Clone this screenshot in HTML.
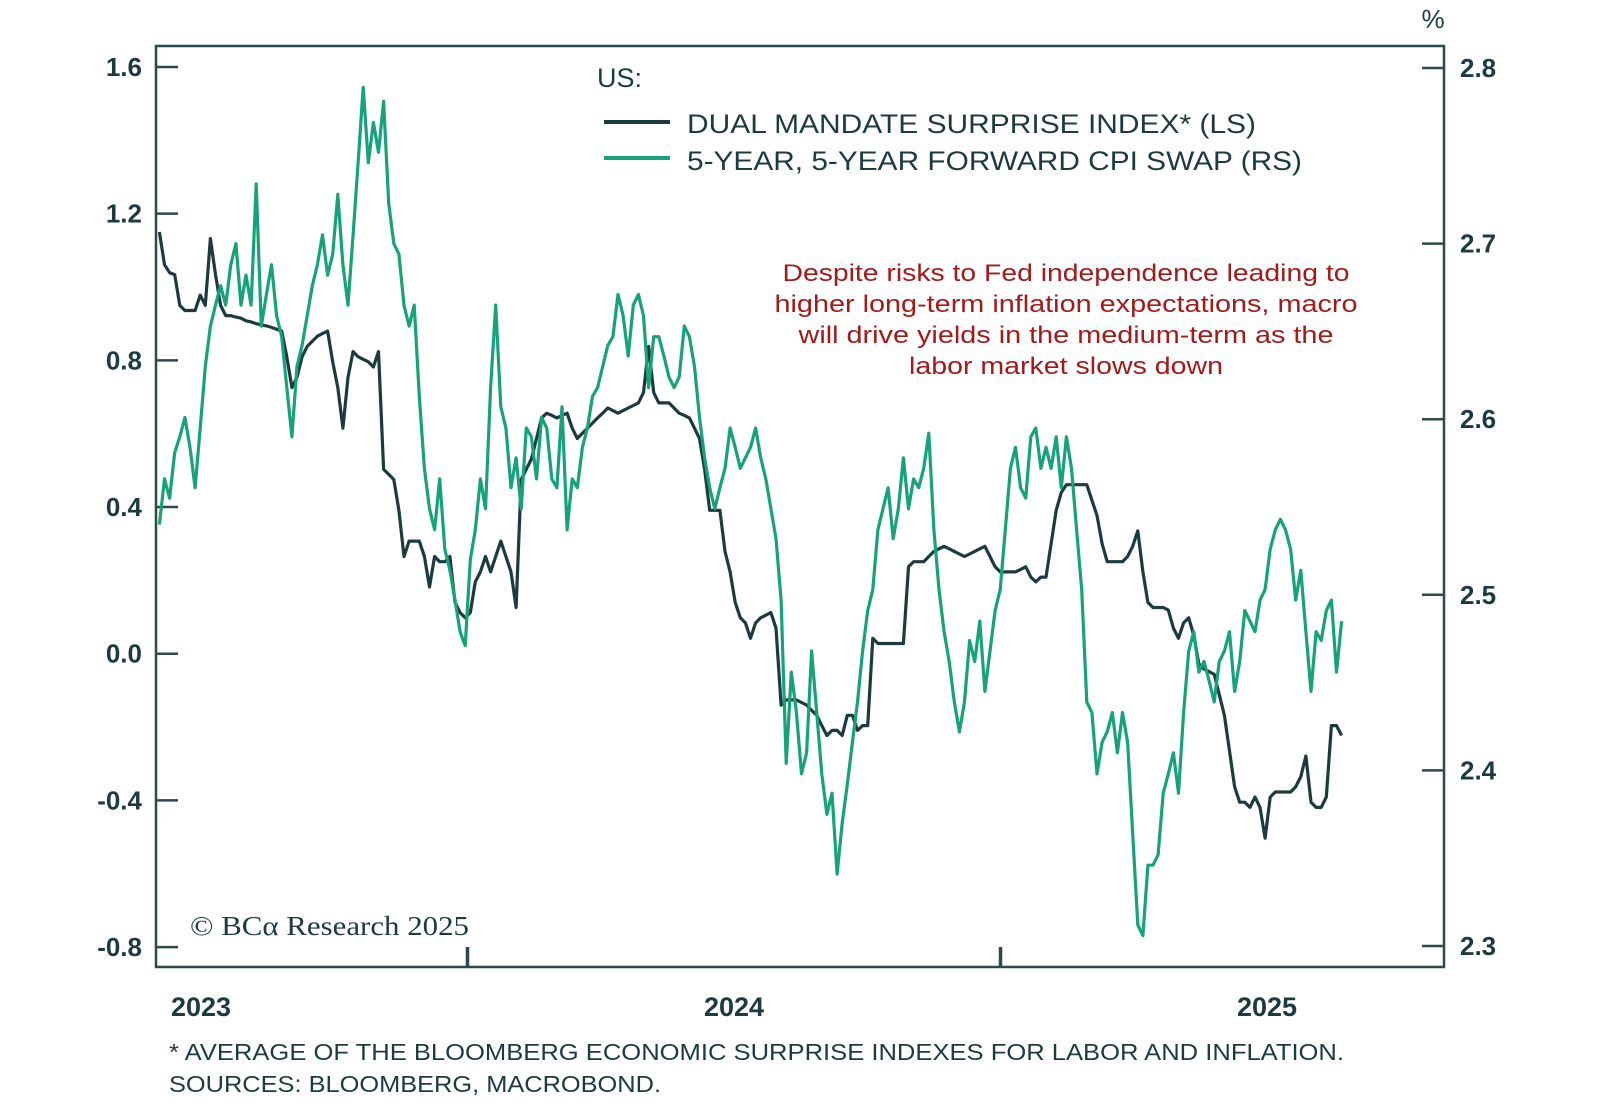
<!DOCTYPE html>
<html><head><meta charset="utf-8"><style>
html,body{margin:0;padding:0;background:#fff;}
svg{display:block;}
text{font-family:"Liberation Sans",sans-serif;}
</style></head><body>
<svg id="chart" width="1600" height="1107" viewBox="0 0 1600 1107">
<rect x="156" y="46" width="1288" height="921" fill="none" stroke="#2c4a4e" stroke-width="2.5"/>
<g id="axes"></g>
<g id="series"></g>
<text x="1433" y="28" font-size="26" fill="#1d3b3f" text-anchor="middle">%</text>
<text x="597" y="87" font-size="27" fill="#1d3b3f">US:</text>
<line x1="604" y1="122" x2="670" y2="122" stroke="#1d3b3f" stroke-width="4"/>
<text x="687" y="133" font-size="27" fill="#1d3b3f" textLength="569" lengthAdjust="spacingAndGlyphs">DUAL MANDATE SURPRISE INDEX* (LS)</text>
<line x1="604" y1="158" x2="670" y2="158" stroke="#16a37b" stroke-width="4"/>
<text x="687" y="170" font-size="27" fill="#1d3b3f" textLength="615" lengthAdjust="spacingAndGlyphs">5-YEAR, 5-YEAR FORWARD CPI SWAP (RS)</text>
<g fill="#a31a1a" font-size="24" text-anchor="middle" lengthAdjust="spacingAndGlyphs">
<text x="1066" y="281" textLength="567" lengthAdjust="spacingAndGlyphs">Despite risks to Fed independence leading to</text>
<text x="1066" y="312" textLength="583" lengthAdjust="spacingAndGlyphs">higher long-term inflation expectations, macro</text>
<text x="1066" y="343" textLength="535" lengthAdjust="spacingAndGlyphs">will drive yields in the medium-term as the</text>
<text x="1066" y="374" textLength="314" lengthAdjust="spacingAndGlyphs">labor market slows down</text>
</g>
<text x="190" y="935" font-size="27" fill="#1d3b3f" textLength="279" lengthAdjust="spacingAndGlyphs" style="font-family:'Liberation Serif',serif">© BCα Research 2025</text>
<text x="169" y="1060" font-size="23" fill="#1d3b3f" textLength="1175" lengthAdjust="spacingAndGlyphs">* AVERAGE OF THE BLOOMBERG ECONOMIC SURPRISE INDEXES FOR LABOR AND INFLATION.</text>
<text x="169" y="1092" font-size="23" fill="#1d3b3f" textLength="492" lengthAdjust="spacingAndGlyphs">SOURCES: BLOOMBERG, MACROBOND.</text>
</svg>
<script>
const startYear = 2022.922;
const stepYear = 0.00956;
const leftTicks = [1.6, 1.2, 0.8, 0.4, 0.0, -0.4, -0.8];
const leftTickLabels = ["1.6","1.2","0.8","0.4","0.0","-0.4","-0.8"];
const rightTicks = [2.8, 2.7, 2.6, 2.5, 2.4, 2.3];
const rightTickLabels = ["2.8","2.7","2.6","2.5","2.4","2.3"];
const yearLabels = [2023, 2024, 2025];
const surprise = [1.150,1.061,1.039,1.034,0.950,0.936,0.936,0.936,0.978,0.950,1.132,1.034,0.950,0.922,0.922,0.918,0.915,0.908,0.905,0.900,0.897,0.894,0.890,0.885,0.880,0.810,0.726,0.754,0.810,0.838,0.852,0.866,0.873,0.880,0.796,0.726,0.615,0.754,0.824,0.810,0.803,0.796,0.782,0.824,0.503,0.489,0.475,0.391,0.265,0.307,0.307,0.307,0.265,0.182,0.265,0.251,0.251,0.265,0.140,0.112,0.098,0.112,0.196,0.223,0.265,0.223,0.265,0.307,0.265,0.223,0.126,0.475,0.503,0.531,0.587,0.643,0.656,0.650,0.643,0.650,0.656,0.615,0.587,0.601,0.615,0.629,0.643,0.656,0.670,0.663,0.656,0.663,0.670,0.677,0.684,0.712,0.838,0.712,0.684,0.684,0.684,0.670,0.656,0.650,0.643,0.615,0.587,0.503,0.391,0.391,0.391,0.279,0.223,0.140,0.098,0.084,0.042,0.084,0.098,0.105,0.112,0.070,-0.140,-0.126,-0.126,-0.126,-0.133,-0.140,-0.154,-0.168,-0.196,-0.223,-0.209,-0.209,-0.223,-0.168,-0.168,-0.209,-0.196,-0.196,0.042,0.028,0.028,0.028,0.028,0.028,0.028,0.237,0.251,0.251,0.251,0.265,0.279,0.286,0.293,0.286,0.279,0.272,0.265,0.272,0.279,0.286,0.293,0.265,0.237,0.223,0.223,0.223,0.223,0.230,0.237,0.209,0.196,0.209,0.209,0.300,0.391,0.440,0.461,0.461,0.461,0.461,0.461,0.419,0.377,0.300,0.251,0.251,0.251,0.251,0.265,0.293,0.335,0.223,0.140,0.126,0.126,0.126,0.119,0.070,0.042,0.084,0.098,0.050,-0.028,-0.042,-0.049,-0.056,-0.112,-0.168,-0.265,-0.363,-0.405,-0.405,-0.419,-0.391,-0.419,-0.503,-0.391,-0.377,-0.377,-0.377,-0.377,-0.363,-0.335,-0.279,-0.405,-0.419,-0.419,-0.391,-0.196,-0.196,-0.223];
const cpiSwap = [2.540,2.566,2.555,2.581,2.590,2.601,2.584,2.561,2.595,2.630,2.653,2.665,2.676,2.665,2.688,2.700,2.665,2.682,2.665,2.734,2.653,2.671,2.688,2.659,2.647,2.618,2.590,2.630,2.642,2.659,2.676,2.688,2.705,2.682,2.694,2.728,2.688,2.665,2.705,2.746,2.789,2.746,2.769,2.752,2.781,2.723,2.700,2.694,2.665,2.653,2.665,2.613,2.572,2.549,2.537,2.566,2.526,2.514,2.497,2.479,2.471,2.520,2.537,2.566,2.549,2.618,2.665,2.607,2.595,2.561,2.578,2.549,2.595,2.590,2.566,2.601,2.595,2.566,2.561,2.607,2.537,2.566,2.561,2.584,2.595,2.613,2.618,2.630,2.642,2.647,2.671,2.659,2.636,2.665,2.671,2.659,2.618,2.647,2.647,2.636,2.624,2.618,2.624,2.653,2.647,2.630,2.601,2.578,2.561,2.549,2.561,2.572,2.595,2.584,2.572,2.578,2.584,2.595,2.578,2.566,2.549,2.532,2.497,2.404,2.456,2.433,2.398,2.410,2.468,2.433,2.398,2.375,2.387,2.341,2.370,2.392,2.416,2.439,2.468,2.491,2.503,2.537,2.549,2.561,2.532,2.549,2.578,2.549,2.566,2.561,2.572,2.592,2.537,2.503,2.479,2.462,2.439,2.422,2.439,2.474,2.462,2.485,2.445,2.468,2.491,2.503,2.537,2.572,2.584,2.561,2.555,2.590,2.595,2.572,2.584,2.572,2.590,2.561,2.590,2.572,2.537,2.503,2.439,2.433,2.398,2.416,2.422,2.433,2.410,2.433,2.416,2.364,2.312,2.306,2.346,2.346,2.352,2.387,2.398,2.410,2.387,2.433,2.468,2.479,2.456,2.462,2.451,2.439,2.462,2.468,2.479,2.445,2.462,2.491,2.485,2.479,2.497,2.503,2.526,2.537,2.543,2.537,2.526,2.497,2.514,2.479,2.445,2.479,2.474,2.491,2.497,2.456,2.485];

const NS = "http://www.w3.org/2000/svg";
function xScale(yr){ return 201 + (yr - 2023) * 533; }
function yLeft(v){ return 67 + (1.6 - v) * 366.7; }
function yRight(v){ return 68 + (2.8 - v) * 1756; }
const axes = document.getElementById('axes');
const series = document.getElementById('series');
function mk(tag, attrs, parent){ const e = document.createElementNS(NS, tag); for (const k in attrs) e.setAttribute(k, attrs[k]); parent.appendChild(e); return e; }

leftTicks.forEach((v,i)=>{
  const y = yLeft(v);
  const t = mk('line',{x1:156,y1:y,x2:178,y2:y,stroke:'#2c4a4e','stroke-width':2.5},axes);
  
  
  const l = mk('text',{x:142,y:y+9,'font-size':26,'font-weight':'bold',fill:'#1d3b3f','text-anchor':'end'},axes);
  l.textContent = leftTickLabels[i];
  
  
});
rightTicks.forEach((v,i)=>{
  const y = yRight(v);
  const t = mk('line',{x1:1422,y1:y,x2:1444,y2:y,stroke:'#2c4a4e','stroke-width':2.5},axes);
  
  
  const l = mk('text',{x:1460,y:y+9,'font-size':26,'font-weight':'bold',fill:'#1d3b3f'},axes);
  l.textContent = rightTickLabels[i];
  
  
});
yearLabels.forEach((yr,i)=>{
  const x = xScale(yr);
  const l = mk('text',{x:x,y:1016,'font-size':27,'font-weight':'bold',fill:'#1d3b3f','text-anchor':'middle'},axes);
  l.textContent = String(yr);
  
  
  if (i < yearLabels.length - 1) {
    const xm = xScale(yr + 0.5);
    const t = mk('line',{x1:xm,y1:967,x2:xm,y2:947,stroke:'#2c4a4e','stroke-width':3.5},axes);
    
    
  }
});
function path(vals, yfn, color, name){
  let d = '';
  vals.forEach((v,i)=>{ const x = xScale(startYear + i*stepYear); d += (i?'L':'M') + x.toFixed(1) + ',' + yfn(v).toFixed(1); });
  const p = mk('path',{d:d,fill:'none',stroke:color,'stroke-width':3.2,'stroke-linejoin':'round'},series);
  
  
}
path(surprise, yLeft, '#1d3b3f', 'surprise-index-line');
path(cpiSwap, yRight, '#16a37b', 'cpi-swap-line');
</script>
</body></html>
